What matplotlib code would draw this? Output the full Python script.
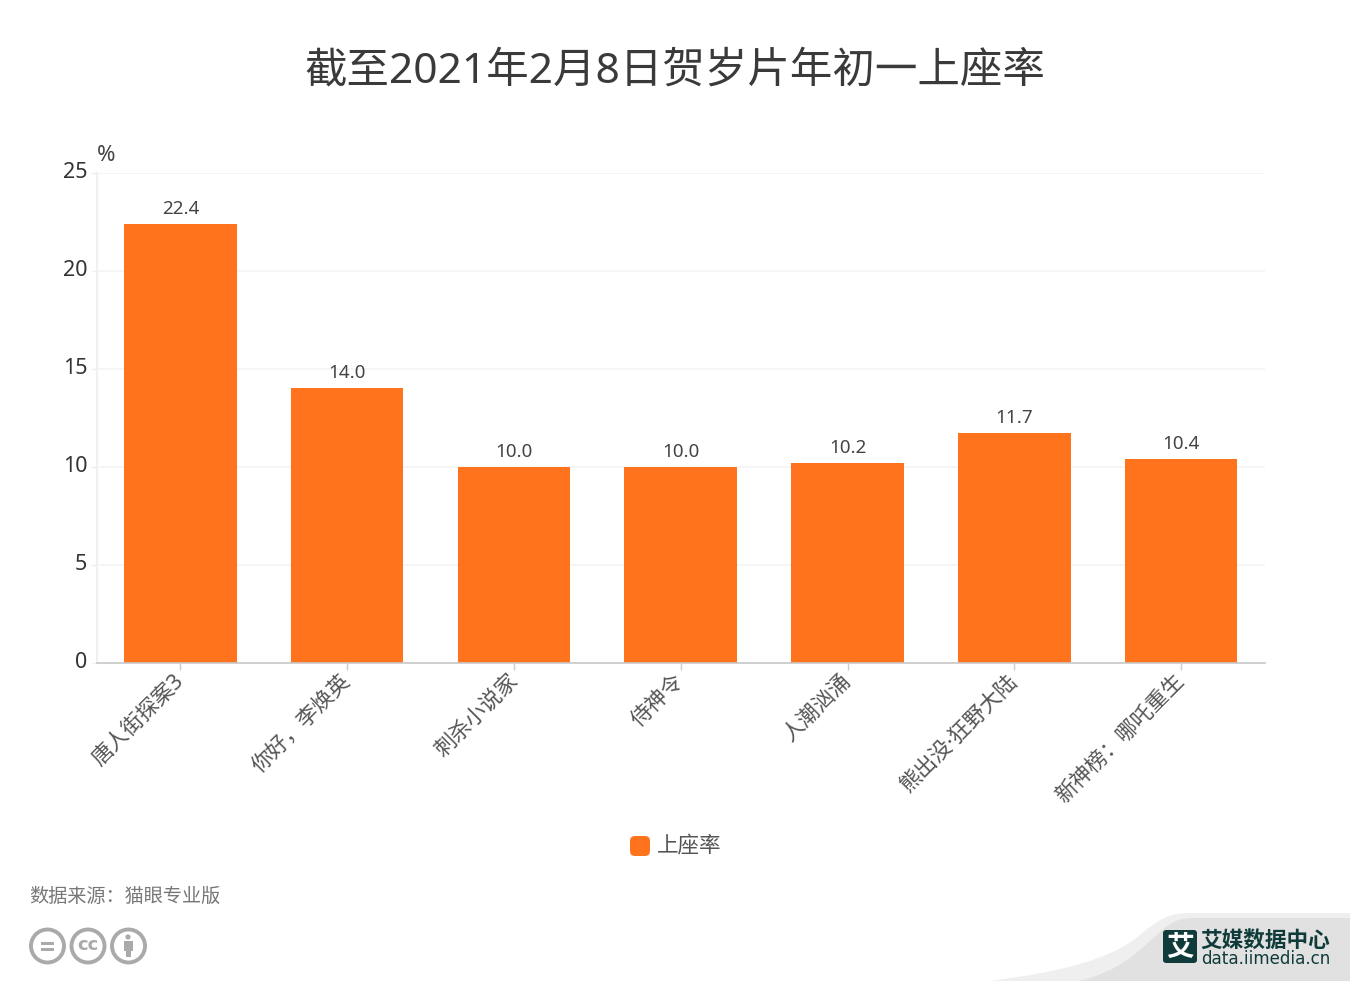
import matplotlib
matplotlib.use("Agg")
import matplotlib.pyplot as plt
from matplotlib.patches import Circle, FancyBboxPatch, PathPatch, Rectangle
from matplotlib.path import Path
from matplotlib.transforms import ScaledTranslation

# latin digits from Noto Sans, everything else falls through to the CJK face
plt.rcParams['font.family'] = ['Noto Sans', 'Noto Sans CJK SC', 'DejaVu Sans']

TITLE = "截至2021年2月8日贺岁片年初一上座率"
SOURCE = "数据来源：猫眼专业版"
SERIES_NAME = "上座率"
movies = ["唐人街探案3", "你好，李焕英", "刺杀小说家", "侍神令", "人潮汹涌", "熊出没·狂野大陆", "新神榜：哪吒重生"]
rates = [22.4, 14.0, 10.0, 10.0, 10.2, 11.7, 10.4]
y_ticks = [0, 5, 10, 15, 20, 25]

ORANGE = "#ff731d"
W, H = 1350, 982

fig = plt.figure(figsize=(W / 100, H / 100), dpi=100)
ax = fig.add_axes([97 / W, 1 - 662.5 / H, (1264.5 - 97) / W, (662.5 - 173) / H])

bars = ax.bar(range(len(movies)), rates, width=0.675, color=ORANGE, zorder=3)
for b, v in zip(bars, rates):
    ax.annotate(f"{v:.1f}", (b.get_x() + b.get_width() / 2, v), xytext=(0, 6),
                textcoords="offset pixels", ha="center", va="bottom",
                fontsize=13.5, color="#444444")

ax.set_xlim(-0.5, len(movies) - 0.5)
ax.set_ylim(0, 25)
ax.set_yticks(y_ticks)
ax.grid(axis="y", color="#f3f3f3", linewidth=1.2, zorder=0)
ax.tick_params(axis="y", length=4.3, width=1, color="#f0f0f0", labelsize=15.5,
               labelcolor="#333333", pad=2.5)
ax.set_xticks(range(len(movies)))
ax.set_xticklabels(movies, rotation=45, ha="right", va="top", rotation_mode="anchor",
                   fontsize=15.5, color="#555555")
ax.tick_params(axis="x", length=5, width=1, color="#cccccc", pad=5)

# nudge tick labels in pixels to where the reference has them
for lab in ax.get_xticklabels():
    lab.set_transform(lab.get_transform() + ScaledTranslation(-7 / 100, 6 / 100, fig.dpi_scale_trans))
for lab in ax.get_yticklabels():
    lab.set_transform(lab.get_transform() + ScaledTranslation(0, 3 / 100, fig.dpi_scale_trans))

for s in ["top", "right"]:
    ax.spines[s].set_visible(False)
ax.spines["left"].set_color("#f0f0f0")
ax.spines["left"].set_linewidth(1.5)
ax.spines["bottom"].set_color("#c8c8c8")
ax.spines["bottom"].set_linewidth(1.2)
ax.spines["bottom"].set_zorder(4)

# everything around the plot is placed in image pixels
over = fig.add_axes([0, 0, 1, 1], zorder=5)
over.set_xlim(0, W)
over.set_ylim(H, 0)
over.axis("off")
over.patch.set_alpha(0)

over.text(675, 72, TITLE, ha="center", va="center", fontsize=30.6, color="#3a3a3a")
over.text(97, 155, "%", ha="left", va="center", fontsize=16, color="#444444")

# legend
over.add_patch(FancyBboxPatch((634, 840), 12, 12, boxstyle="round,pad=4,rounding_size=5",
                              fc=ORANGE, ec="none"))
over.text(657, 846, SERIES_NAME, ha="left", va="center", fontsize=15.5, color="#555555")

over.text(29, 897, SOURCE, ha="left", va="center", fontsize=13.8, color="#777777")

# licence icons
GREY = "#aaaaaa"
for cx in [47.5, 88, 128.5]:
    over.add_patch(Circle((cx, 946), 16.5, fc="white", ec=GREY, lw=2.8))
over.add_patch(Rectangle((41, 941.5), 13, 3, fc=GREY, ec="none"))
over.add_patch(Rectangle((41, 948), 13, 3, fc=GREY, ec="none"))
over.text(88, 945, "cc", ha="center", va="center", fontsize=13, color=GREY,
          family="DejaVu Sans", fontweight="bold")
over.add_patch(Circle((128, 937), 2.6, fc=GREY, ec="none"))
over.add_patch(Rectangle((123.5, 941), 9, 9.5, fc=GREY, ec="none"))
over.add_patch(Rectangle((125.5, 950), 5, 7, fc=GREY, ec="none"))

# corner swoosh + logo
light = Path([(990, 981), (1060, 972), (1110, 960), (1140, 935), (1160, 918), (1170, 913), (1190, 913),
              (1350, 913), (1350, 981), (990, 981)],
             [Path.MOVETO, Path.CURVE4, Path.CURVE4, Path.CURVE4, Path.CURVE4, Path.CURVE4, Path.CURVE4,
              Path.LINETO, Path.LINETO, Path.CLOSEPOLY])
dark = Path([(1078, 981), (1120, 972), (1140, 950), (1160, 932), (1172, 921), (1180, 918), (1195, 918),
             (1350, 918), (1350, 981), (1078, 981)],
            [Path.MOVETO, Path.CURVE4, Path.CURVE4, Path.CURVE4, Path.CURVE4, Path.CURVE4, Path.CURVE4,
             Path.LINETO, Path.LINETO, Path.CLOSEPOLY])
over.add_patch(PathPatch(light, fc="#efefef", ec="none"))
over.add_patch(PathPatch(dark, fc="#e1e1e1", ec="none"))
LOGO = "#0f3b3a"
over.add_patch(FancyBboxPatch((1165, 932), 30, 29, boxstyle="round,pad=2,rounding_size=3", fc=LOGO, ec="none"))
over.text(1180, 948, "艾", ha="center", va="center", fontsize=20, color="white", fontweight="bold",
          family="Noto Sans CJK SC")
over.text(1200, 940, "艾媒数据中心", ha="left", va="center", fontsize=15.6, color=LOGO, fontweight="bold",
          family="Noto Sans CJK SC")
over.text(1201, 959, "data.iimedia.cn", ha="left", va="center", fontsize=12.1, color=LOGO,
          family="DejaVu Sans")

fig.savefig("out.png", dpi=100)
